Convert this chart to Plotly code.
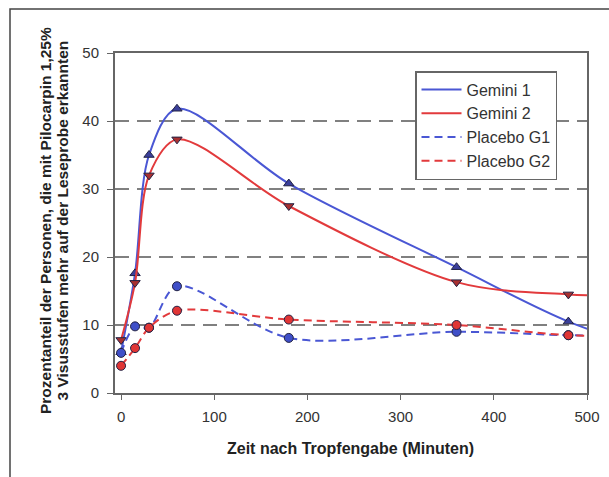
import plotly.graph_objects as go

time_min = [0, 15, 30, 60, 180, 360, 480, 600]
gemini1 = [6.0, 17.6, 35.0, 41.8, 30.8, 18.5, 10.5, 5.0]
gemini2 = [7.8, 16.2, 32.0, 37.3, 27.5, 16.3, 14.5, 14.2]
placebo_g1 = [5.9, 9.8, 9.6, 15.7, 8.1, 9.0, 8.5, 8.3]
placebo_g2 = [4.0, 6.6, 9.6, 12.1, 10.8, 10.0, 8.5, 8.3]

x_ticks = [0, 100, 200, 300, 400, 500]
y_ticks = [0, 10, 20, 30, 40, 50]

y_title_1 = "Prozentanteil der Personen, die mit Pilocarpin 1,25%"
y_title_2 = "3 Visusstufen mehr auf der Leseprobe erkannten"
x_title = "Zeit nach Tropfengabe (Minuten)"

BLUE = "#4a57d4"
RED = "#e23a3c"
font_family = "Liberation Sans, Arial, sans-serif"

fig = go.Figure()

def add(name, y, color, dash, symbol, mfill):
    fig.add_trace(go.Scatter(
        x=time_min, y=y, name=name, mode="lines",
        line=dict(color=color, width=2, dash=dash, shape="spline", smoothing=0.9),
        legendgroup=name,
    ))
    fig.add_trace(go.Scatter(
        x=time_min, y=y, name=name, mode="markers", showlegend=False,
        marker=dict(symbol=symbol, size=9, color=mfill, line=dict(color="#222244", width=1)),
        legendgroup=name,
    ))

add("Gemini 1", gemini1, BLUE, "solid", "triangle-up", "#3a3f9a")
add("Gemini 2", gemini2, RED, "solid", "triangle-down", "#a83030")
add("Placebo G1", placebo_g1, BLUE, "8px,5px", "circle", "#3f4fc8")
add("Placebo G2", placebo_g2, RED, "8px,5px", "circle", "#e03535")

L, R, T, B = 115, 22, 53, 84
W, H = 609, 477
pw, ph = W - L - R, H - T - B

def px(xp):
    return (xp - L) / pw

def py(yp):
    return 1 - (yp - T) / ph

fig.add_shape(type="path", xref="paper", yref="paper",
              path=f"M {px(10)} {py(520)} L {px(10)} {py(9)} L {px(650)} {py(9)}",
              line=dict(color="#444444", width=1.5), layer="above")

for text, xc in ((y_title_1, 45), (y_title_2, 61.5)):
    fig.add_annotation(
        text=f"<b>{text}</b>", xref="paper", yref="paper", x=px(xc), y=py(221),
        xanchor="center", yanchor="middle", textangle=-90, showarrow=False,
        font=dict(size=15.5, color="#222222", family=font_family),
    )
fig.add_annotation(
    text=f"<b>{x_title}</b>", xref="paper", yref="paper", x=px(350), y=py(448),
    xanchor="center", yanchor="middle", showarrow=False,
    font=dict(size=16, color="#222222", family=font_family),
)

fig.update_layout(
    width=W, height=H,
    margin=dict(l=L, r=R, t=T, b=B, pad=0, autoexpand=False),
    paper_bgcolor="white", plot_bgcolor="white",
    font=dict(family=font_family, color="#333333", size=15),
    showlegend=True,
    legend=dict(
        x=px(415), y=py(71), xanchor="left", yanchor="top",
        bgcolor="white", bordercolor="#666666", borderwidth=1.5,
        font=dict(size=16, color="#333333"),
        itemwidth=40, tracegroupgap=0,
    ),
    xaxis=dict(
        range=[-6.5, 500], tickvals=x_ticks, ticks="outside", ticklen=5,
        tickcolor="#666666", showgrid=False, zeroline=False, automargin=False,
        showline=True, linecolor="#666666", linewidth=2, mirror=True,
        tickfont=dict(size=15, color="#333333"), ticklabelstandoff=4,
    ),
    yaxis=dict(
        range=[0, 50], tickvals=y_ticks, ticks="outside", ticklen=6,
        tickcolor="#666666", showgrid=True, gridcolor="#808080", gridwidth=2,
        griddash="14px,8px", zeroline=False, automargin=False,
        showline=True, linecolor="#666666", linewidth=2, mirror=True,
        tickfont=dict(size=15, color="#333333"), ticklabelstandoff=5,
    ),
)

fig.write_html("out.html", config={"displayModeBar": False},
               post_script="document.body.style.margin='0';document.body.style.padding='0';")
